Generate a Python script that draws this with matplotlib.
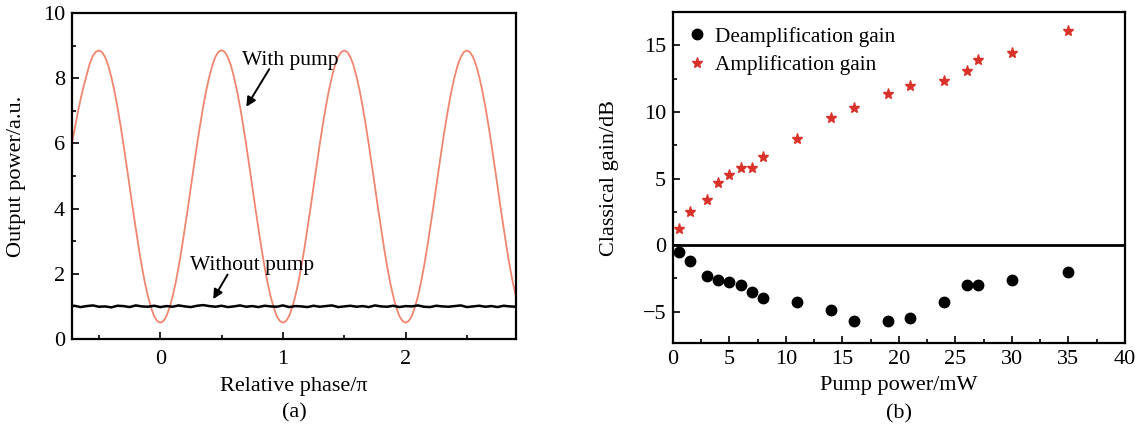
import matplotlib
matplotlib.use('Agg')
import matplotlib.pyplot as plt
import numpy as np
from matplotlib.ticker import MultipleLocator

plt.rcParams['font.family'] = ['Liberation Serif', 'DejaVu Serif']
plt.rcParams['mathtext.fontset'] = 'stix'

# (a) fase relativa (en unidades de pi) y potencias leidas de la figura
# con bombeo: muestras cada 0.025 desde -0.75
fase_inicio = -0.75
con_bomba = [5.00, 5.90, 6.40, 6.90, 7.35, 7.75, 8.10, 8.45, 8.68, 8.81,
             8.85, 8.80, 8.65, 8.40, 8.05, 7.63, 7.13, 6.57, 5.97, 5.33,
             4.68, 4.02, 3.39, 2.78, 2.22, 1.72, 1.30, 0.96, 0.70, 0.55,
             # periodo 0 .. 1
             0.50, 0.55, 0.70, 0.96, 1.30, 1.72, 2.22, 2.78, 3.39, 4.02,
             4.68, 5.33, 5.97, 6.57, 7.13, 7.63, 8.05, 8.40, 8.66, 8.81,
             8.86, 8.81, 8.65, 8.40, 8.05, 7.63, 7.13, 6.57, 5.97, 5.33,
             4.68, 4.02, 3.39, 2.78, 2.22, 1.72, 1.30, 0.96, 0.70, 0.55,
             # periodo 1 .. 2
             0.50, 0.55, 0.70, 0.96, 1.30, 1.72, 2.22, 2.78, 3.39, 4.02,
             4.68, 5.33, 5.97, 6.57, 7.13, 7.63, 8.05, 8.40, 8.65, 8.80,
             8.85, 8.80, 8.65, 8.40, 8.05, 7.63, 7.13, 6.57, 5.97, 5.33,
             4.68, 4.02, 3.39, 2.78, 2.22, 1.72, 1.30, 0.96, 0.70, 0.55,
             # periodo 2 .. 2.9
             0.50, 0.55, 0.70, 0.96, 1.30, 1.72, 2.22, 2.78, 3.39, 4.02,
             4.68, 5.33, 5.97, 6.57, 7.13, 7.63, 8.05, 8.40, 8.65, 8.80,
             8.85, 8.80, 8.65, 8.40, 8.05, 7.63, 7.13, 6.57, 5.97, 5.33,
             4.68, 4.02, 3.39, 2.78, 2.22, 1.72, 1.30]
# sin bombeo: muestras cada 0.05 desde -0.75
sin_bomba = [0.99, 1.02, 0.98, 1.01, 1.03, 0.99, 1.00, 0.97, 1.02, 1.01,
             0.98, 1.03, 1.00, 0.99, 1.02, 0.98, 1.01, 0.99, 1.03, 1.00,
             0.98, 1.02, 1.04, 1.01, 0.99, 1.02, 0.98, 1.00, 1.03, 0.99,
             1.01, 0.98, 1.02, 1.00, 0.99, 1.03, 0.98, 1.01, 1.00, 0.98,
             1.02, 0.99, 1.01, 1.03, 0.98, 1.00, 1.02, 0.99, 1.01, 0.98,
             1.03, 1.00, 0.99, 1.02, 0.98, 1.01, 1.00, 1.03, 0.99, 0.98,
             1.02, 1.00, 0.99, 1.01, 1.03, 0.98, 1.00, 1.02, 0.99, 1.01,
             0.98, 1.02, 1.00, 0.99]
fase_con = fase_inicio + 0.025 * np.arange(len(con_bomba))
fase_sin = fase_inicio + 0.05 * np.arange(len(sin_bomba))

# (b) ganancia clasica vs potencia de bombeo
potencia = [0.5, 1.5, 3, 4, 5, 6, 7, 8, 11, 14, 16, 19, 21, 24, 26, 27, 30, 35]
ganancia_amp = [1.2, 2.45, 3.4, 4.7, 5.3, 5.8, 5.8, 6.6, 8.0, 9.55, 10.3,
                11.35, 11.95, 12.3, 13.05, 13.9, 14.4, 16.1]
ganancia_deamp = [-0.5, -1.2, -2.35, -2.65, -2.75, -3.0, -3.5, -4.0, -4.3,
                  -4.9, -5.7, -5.7, -5.5, -4.3, -3.0, -3.0, -2.65, -2.0]

fig = plt.figure(figsize=(11.37, 4.30), dpi=100)
ax1 = fig.add_axes([0.0633, 0.2116, 0.3905, 0.7582])
ax2 = fig.add_axes([0.5919, 0.2023, 0.3975, 0.7697])

fs = 16
for ax in (ax1, ax2):
    for sp in ax.spines.values():
        sp.set_linewidth(1.6)
    ax.tick_params(which='both', direction='in', labelsize=fs, width=1.2,
                   top=False, right=False)
    ax.tick_params(which='major', length=5, pad=5)
    ax.tick_params(which='minor', length=3)
ax1.tick_params(axis='x', which='major', pad=8)

# ----- panel (a) -----
ax1.plot(fase_con, con_bomba, color='#f0866f', lw=1.3, zorder=2)
ax1.plot(fase_sin, sin_bomba, color='black', lw=1.8, zorder=3)
ax1.set_xlim(-0.72, 2.90)
ax1.set_ylim(0, 10)
ax1.xaxis.set_major_locator(MultipleLocator(1))
ax1.xaxis.set_minor_locator(MultipleLocator(0.5))
ax1.yaxis.set_major_locator(MultipleLocator(2))
ax1.yaxis.set_minor_locator(MultipleLocator(1))
ax1.set_ylabel('Output power/a.u.', fontsize=fs, labelpad=12)
ax1.set_xlabel('Relative phase/π', fontsize=fs, labelpad=6)
ax1.text(0.5, -0.225, '(a)', transform=ax1.transAxes, ha='center',
         va='center', fontsize=fs)

flecha = dict(arrowstyle='-|>', color='black', lw=1.4, mutation_scale=14)
ax1.annotate('With pump', xy=(0.69, 7.05), xytext=(0.67, 8.55),
             fontsize=15.5, va='center', ha='left')
ax1.annotate('', xy=(0.69, 7.05), xytext=(0.90, 8.35), arrowprops=flecha)
ax1.annotate('Without pump', xy=(0.42, 1.15), xytext=(0.24, 2.25),
             fontsize=15.5, va='center', ha='left')
ax1.annotate('', xy=(0.42, 1.15), xytext=(0.56, 2.05), arrowprops=flecha)

# ----- panel (b) -----
ax2.axhline(0, color='black', lw=2.0, zorder=1)
ax2.plot(potencia, ganancia_deamp, 'o', color='black', ms=7.5,
         label='Deamplification gain', zorder=3)
ax2.plot(potencia, ganancia_amp, '*', color='#d8322a', ms=8,
         label='Amplification gain', zorder=3)
ax2.set_xlim(0, 40)
ax2.set_ylim(-7.35, 17.5)
ax2.xaxis.set_major_locator(MultipleLocator(5))
ax2.xaxis.set_minor_locator(MultipleLocator(2.5))
ax2.yaxis.set_major_locator(MultipleLocator(5))
ax2.yaxis.set_minor_locator(MultipleLocator(2.5))
ax2.set_yticks([-5, 0, 5, 10, 15])
ax2.set_yticklabels(['\u22125', '0', '5', '10', '15'])
ax2.set_ylabel('Classical gain/dB', fontsize=fs, labelpad=17)
ax2.set_xlabel('Pump power/mW', fontsize=fs, labelpad=5)
ax2.text(0.5, -0.213, '(b)', transform=ax2.transAxes, ha='center',
         va='center', fontsize=fs)
ax2.legend(loc='upper left', bbox_to_anchor=(0.0, 1.0), frameon=False,
           fontsize=15.3, handletextpad=0.4, borderaxespad=0.3,
           labelspacing=0.4, handlelength=0.9)

fig.savefig('out.png', dpi=100)
